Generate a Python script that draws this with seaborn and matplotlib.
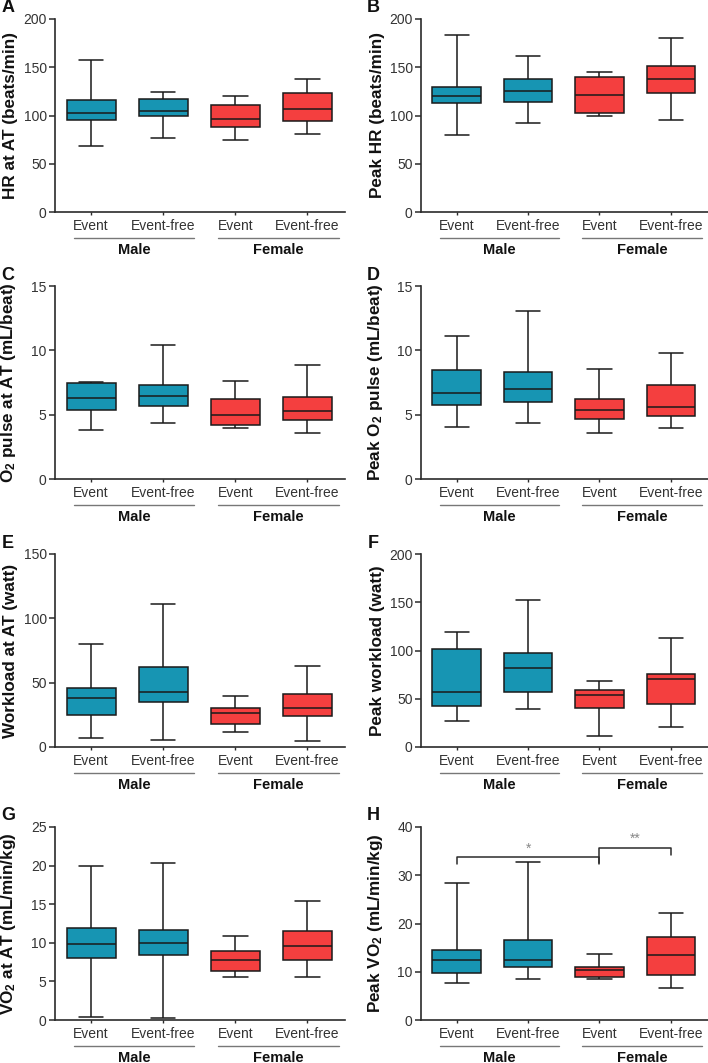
import numpy as np
import pandas as pd
import matplotlib
matplotlib.use("Agg")
import matplotlib.pyplot as plt
import seaborn as sns

# ---- data: five-number summaries [min, Q1, median, Q3, max] ----
# group order: Male Event, Male Event-free, Female Event, Female Event-free
groups = ["M_Event", "M_Eventfree", "F_Event", "F_Eventfree"]
sexes = ["Male", "Male", "Female", "Female"]
tick_labels = ["Event", "Event-free", "Event", "Event-free"]
group_names = ["Male", "Female"]

hr_at_at = [[68, 95.5, 103, 116, 158], [77, 100, 105, 117, 124],
            [75, 88.5, 96.5, 111, 120.5], [80.5, 94.5, 107, 123, 138]]
peak_hr = [[79.5, 112.5, 120, 130, 183], [92, 114.5, 125.5, 138, 162],
           [99, 103, 121.5, 140, 145], [95, 123.5, 137.7, 151, 180]]
o2_pulse_at = [[3.78, 5.33, 6.31, 7.45, 7.55], [4.34, 5.64, 6.47, 7.32, 10.45],
               [3.93, 4.22, 4.97, 6.23, 7.65], [3.54, 4.55, 5.28, 6.36, 8.87]]
peak_o2_pulse = [[4.04, 5.76, 6.69, 8.46, 11.09], [4.35, 5.97, 7.0, 8.34, 13.07],
                 [3.6, 4.66, 5.38, 6.23, 8.54], [3.96, 4.86, 5.61, 7.33, 9.83]]
workload_at = [[6.7, 25.2, 38.2, 45.9, 80.2], [5.7, 35, 43, 62.5, 111],
               [11.9, 17.9, 26.2, 30.4, 40], [4.9, 24.1, 30.1, 41, 63]]
peak_workload = [[27.3, 42.9, 57.4, 102, 119.4], [39, 57.4, 81.7, 97.2, 151.9],
                 [11.4, 40.5, 54.3, 59.5, 68.9], [21.1, 44.3, 70.2, 76.1, 113.1]]
vo2_at = [[0.39, 8.04, 9.78, 11.94, 19.98], [0.26, 8.48, 10.03, 11.72, 20.33],
          [5.58, 6.4, 7.79, 8.91, 10.94], [5.54, 7.74, 9.56, 11.59, 15.35]]
peak_vo2 = [[7.6, 9.8, 12.4, 14.6, 28.3], [8.5, 11.05, 12.4, 16.6, 32.7],
            [8.5, 9.0, 10.3, 11.05, 13.7], [6.6, 9.25, 13.5, 17.1, 22.2]]

panels = [
    ("A", "HR at AT (beats/min)", hr_at_at, [0, 50, 100, 150, 200]),
    ("B", "Peak HR (beats/min)", peak_hr, [0, 50, 100, 150, 200]),
    ("C", r"O$_2$ pulse at AT (mL/beat)", o2_pulse_at, [0, 5, 10, 15]),
    ("D", r"Peak O$_2$ pulse (mL/beat)", peak_o2_pulse, [0, 5, 10, 15]),
    ("E", "Workload at AT (watt)", workload_at, [0, 50, 100, 150]),
    ("F", "Peak workload (watt)", peak_workload, [0, 50, 100, 150, 200]),
    ("G", r"VO$_2$ at AT (mL/min/kg)", vo2_at, [0, 5, 10, 15, 20, 25]),
    ("H", r"Peak VO$_2$ (mL/min/kg)", peak_vo2, [0, 10, 20, 30, 40]),
]

# significance annotations for panel H
sig_pairs = [(0, 2), (2, 3)]
sig_labels = ["*", "**"]
sig_heights = [33.7, 35.7]
sig_left_drop = [32.4, 32.6]
sig_right_drop = [32.4, 34.3]

palette = {"Male": "#1795b3", "Female": "#f43f3f"}

# ---- style ----
sns.set_style("ticks")
plt.rcParams["font.family"] = ["Liberation Sans", "DejaVu Sans"]
plt.rcParams["mathtext.fontset"] = "custom"
plt.rcParams["mathtext.rm"] = "Liberation Sans"
plt.rcParams["mathtext.it"] = "Liberation Sans:italic"
plt.rcParams["mathtext.bf"] = "Liberation Sans:bold"
plt.rcParams["mathtext.default"] = "regular"

W, H = 708, 1063
fig = plt.figure(figsize=(W / 100, H / 100), dpi=100)

col_left = [55, 421]
col_width = [290, 287]
row_top = [19, 286, 554, 827]
ax_h = 193
dark = "#2b2b2b"

for i, (letter, ylabel, stats, yticks) in enumerate(panels):
    r, c = divmod(i, 2)
    ax = fig.add_axes([col_left[c] / W, 1 - (row_top[r] + ax_h) / H,
                       col_width[c] / W, ax_h / H])
    rows = []
    for g, s, vals in zip(groups, sexes, stats):
        for v in vals:
            rows.append({"group": g, "sex": s, "value": v})
    df = pd.DataFrame(rows)
    sns.boxplot(data=df, x="group", y="value", hue="sex", order=groups,
                hue_order=group_names, palette=palette, dodge=False,
                width=0.68, whis=(0, 100), linecolor="#1a1a1a", linewidth=1.1,
                saturation=1, legend=False, ax=ax)
    ax.set_xlim(-0.5, 3.52)
    ax.set_ylim(0, yticks[-1])
    ax.set_yticks(yticks)
    ax.set_xticks(range(4))
    ax.set_xticklabels(tick_labels)
    ax.set_xlabel("")
    ax.set_ylabel(ylabel, fontsize=12.3, fontweight="bold", color="#111")
    ax.yaxis.set_label_coords(-0.127, 0.5)
    for sp in ["top", "right"]:
        ax.spines[sp].set_visible(False)
    for sp in ["left", "bottom"]:
        ax.spines[sp].set_color(dark)
        ax.spines[sp].set_linewidth(1.2)
    ax.tick_params(axis="y", length=4, width=1.1, color=dark, labelsize=10,
                   labelcolor="#333", pad=2)
    ax.tick_params(axis="x", length=2.5, width=1.0, color=dark, labelsize=10,
                   labelcolor="#333", pad=2.5)
    # group underline and labels
    trans = ax.get_xaxis_transform()
    for gi, gname in enumerate(group_names):
        x0 = 2 * gi - 0.24
        x1 = 2 * gi + 1.43
        ax.plot([x0, x1], [-0.135, -0.135], transform=trans, color="#777",
                lw=1.0, clip_on=False)
        ax.text((x0 + x1) / 2, -0.197, gname, transform=trans, ha="center",
                va="center", fontsize=10.5, fontweight="bold", color="#111")
    # panel letter
    fig.text((8 if c == 0 else 373) / W, 1 - (row_top[r] - 11) / H, letter,
             ha="center", va="center", fontsize=13, fontweight="bold",
             color="#111")
    if letter == "H":
        for (a, b), lab, yh, yl, yr in zip(sig_pairs, sig_labels, sig_heights,
                                           sig_left_drop, sig_right_drop):
            ax.plot([a, a, b, b], [yl, yh, yh, yr], color=dark, lw=1.1,
                    clip_on=False)
            ax.text((a + b) / 2, yh + 0.4, lab, ha="center", va="bottom",
                    fontsize=10, color="#888")

fig.savefig("out.png", dpi=100)
